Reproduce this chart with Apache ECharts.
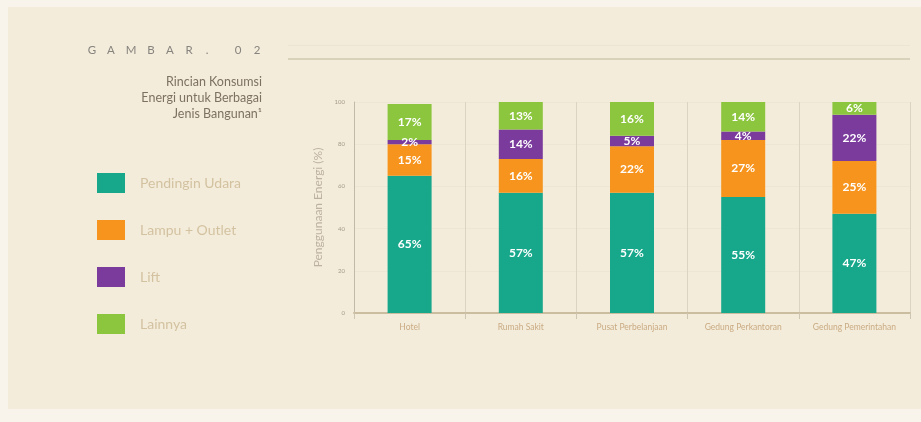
<!DOCTYPE html>
<html>
<head>
<meta charset="utf-8">
<script src="https://cdn.jsdelivr.net/npm/echarts@6/dist/echarts.min.js"></script>
<style>
  html, body { margin: 0; padding: 0; background: #f8f4ec; }
  #chart { width: 921px; height: 422px; }
</style>
</head>
<body>
<div id="chart"></div>
<script>
// Building types along the x axis
const categories = ['Hotel', 'Rumah Sakit', 'Pusat Perbelanjaan', 'Gedung Perkantoran', 'Gedung Pemerintahan'];

// Share of energy use per end use (%)
const pendinginUdara = [65, 57, 57, 55, 47];
const lampuOutlet = [15, 16, 22, 27, 25];
const lift = [2, 14, 5, 4, 22];
const lainnya = [17, 13, 16, 14, 6];

// Y axis ticks
const yTicks = [0, 20, 40, 60, 80, 100];

const seriesNames = ['Pendingin Udara', 'Lampu + Outlet', 'Lift', 'Lainnya'];
const seriesColors = ['#17a88b', '#f7941d', '#7a3b9c', '#8cc63f'];
const seriesData = [pendinginUdara, lampuOutlet, lift, lainnya];

const FONT = 'Lato, "Open Sans", sans-serif';

// Figure number, drawn one letter at a time for wide tracking
const figChars = ['G', 'A', 'M', 'B', 'A', 'R', '.', '0', '2'];
const figX = [92, 111, 131, 151, 170, 189, 207, 238, 257];
const figText = figChars.map((c, i) => ({
  type: 'text', x: figX[i], y: 50,
  style: { text: c, fill: '#86847e', font: '11.5px ' + FONT, align: 'center', verticalAlign: 'middle' }
}));

const chart = echarts.init(document.getElementById('chart'), null, { renderer: 'canvas' });

chart.setOption({
  backgroundColor: '#f8f4ec',
  animation: false,
  textStyle: { fontFamily: FONT },
  graphic: [
    // panel
    { type: 'rect', z: -10, shape: { x: 8, y: 7, width: 913, height: 402 }, style: { fill: '#f4ecdb' } },
    // rule beside the figure number
    { type: 'rect', shape: { x: 288, y: 58, width: 622, height: 2 }, style: { fill: '#d9d2ba' } },
    { type: 'rect', shape: { x: 288, y: 45, width: 622, height: 1 }, style: { fill: '#ece5d2' } },
    ...figText,
    // caption
    { type: 'text', x: 262, y: 82, style: { text: 'Rincian Konsumsi', fill: '#7d7262', font: '12.5px ' + FONT, align: 'right', verticalAlign: 'middle' } },
    { type: 'text', x: 262, y: 98, style: { text: 'Energi untuk Berbagai', fill: '#7d7262', font: '12.5px ' + FONT, align: 'right', verticalAlign: 'middle' } },
    { type: 'text', x: 262, y: 114, style: { text: 'Jenis Bangunan¹', fill: '#7d7262', font: '12.5px ' + FONT, align: 'right', verticalAlign: 'middle' } }
  ],
  legend: {
    orient: 'vertical',
    left: 92,
    top: 168,
    itemWidth: 28,
    itemHeight: 20,
    itemGap: 27,
    icon: 'rect',
    data: seriesNames,
    textStyle: { color: '#d3c2a0', fontSize: 14, padding: [0, 0, 0, 10], fontFamily: FONT, lineHeight: 20 },
    selectedMode: false
  },
  grid: { left: 354, right: 11, top: 102, bottom: 109, containLabel: false },
  xAxis: {
    type: 'category',
    data: categories,
    axisLine: { show: true, lineStyle: { color: '#cbbd9f', width: 2 } },
    axisTick: { show: true, alignWithLabel: false, length: 6, lineStyle: { color: '#cfc6b2', width: 1 } },
    axisLabel: { color: '#c9ab83', fontSize: 8.5, margin: 10, fontFamily: FONT },
    splitLine: { show: true, lineStyle: { color: '#dcd4c3', width: 1 } }
  },
  yAxis: {
    type: 'value',
    min: yTicks[0],
    max: yTicks[yTicks.length - 1],
    interval: yTicks[1] - yTicks[0],
    name: 'Penggunaan Energi (%)',
    nameLocation: 'middle',
    nameGap: 30,
    nameTextStyle: { color: '#bdb2a2', fontSize: 12, fontFamily: FONT },
    axisLine: { show: true, lineStyle: { color: '#c2baa9', width: 1 } },
    axisTick: { show: false },
    axisLabel: { color: '#a39a8a', fontSize: 6, margin: 9, fontFamily: FONT },
    splitLine: { show: true, lineStyle: { color: '#eee6d5', width: 1 } }
  },
  series: seriesNames.map((name, i) => ({
    name: name,
    type: 'bar',
    stack: 'total',
    barWidth: 44,
    itemStyle: { color: seriesColors[i] },
    label: {
      show: true,
      position: 'inside',
      formatter: '{c}%',
      color: '#ffffff',
      fontSize: 12,
      fontWeight: 'bold',
      fontFamily: FONT
    },
    labelLayout: { hideOverlap: false },
    data: seriesData[i]
  }))
});
</script>
</body>
</html>
